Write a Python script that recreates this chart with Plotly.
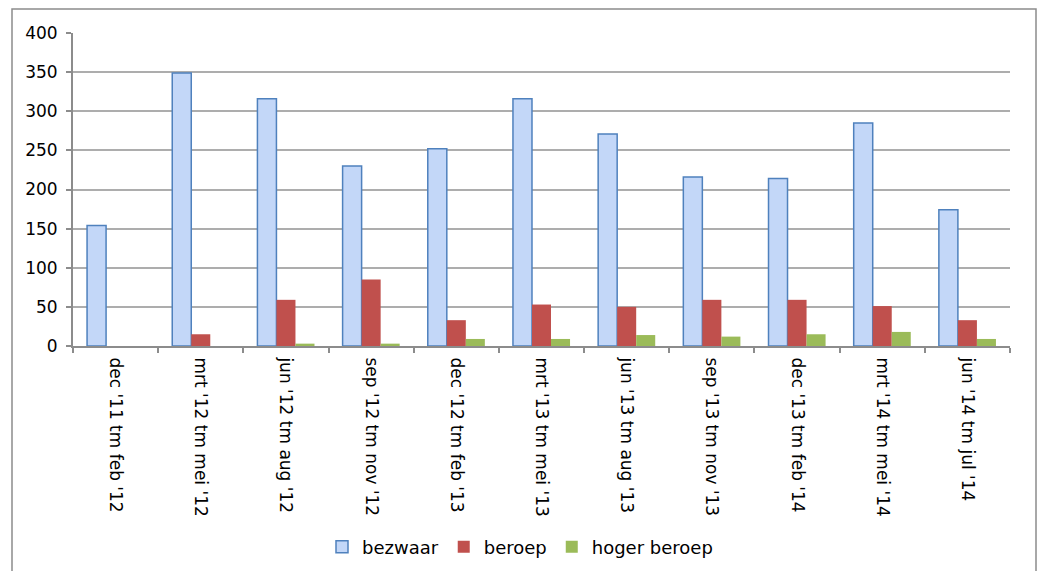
import plotly.graph_objects as go

categories = ["dec '11 tm feb '12", "mrt '12 tm mei '12", "jun '12 tm aug '12",
              "sep '12 tm nov '12", "dec '12 tm feb '13", "mrt '13 tm mei '13",
              "jun '13 tm aug '13", "sep '13 tm nov '13", "dec '13 tm feb '14",
              "mrt '14 tm mei '14", "jun '14 tm jul '14"]
bezwaar = [154, 349, 316, 230, 252, 316, 271, 216, 214, 285, 174]
beroep = [0, 15, 59, 85, 33, 53, 50, 59, 59, 51, 33]
hoger_beroep = [0, 0, 3, 3, 9, 9, 14, 12, 15, 18, 9]
y_ticks = [0, 50, 100, 150, 200, 250, 300, 350, 400]

FONT = "DejaVu Sans, Verdana, sans-serif"

fig = go.Figure()
fig.add_trace(go.Bar(x=categories, y=bezwaar, name="bezwaar",
                     marker=dict(color="#C3D7F8", line=dict(color="#4F81BD", width=1.5))))
fig.add_trace(go.Bar(x=categories, y=beroep, name="beroep",
                     marker=dict(color="#C0504D", line=dict(width=0))))
fig.add_trace(go.Bar(x=categories, y=hoger_beroep, name="hoger beroep",
                     marker=dict(color="#9BBB59", line=dict(width=0))))

L, R, T, B = 73, 1010, 33, 346
W, H = 1037, 571

def px(x):
    return (x - L) / (R - L)

def py(y):
    return (B - y) / (B - T)

fig.update_layout(
    width=W, height=H,
    margin=dict(l=L, r=W - R, t=T, b=H - B, pad=0, autoexpand=False),
    paper_bgcolor="white", plot_bgcolor="white",
    barmode="group", bargap=0.33, bargroupgap=0,
    font=dict(family=FONT, size=17, color="#000000"),
    showlegend=True,
    legend=dict(orientation="h", xref="container", yref="container",
                x=520 / W, xanchor="center", y=1 - 547 / H, yanchor="middle",
                font=dict(family=FONT, size=18, color="#000000"),
                traceorder="normal", itemwidth=30),
    xaxis=dict(type="category", tickangle=90, showline=True, linecolor="#8C8C8C", linewidth=2,
               ticks="outside", tickson="boundaries", ticklen=5, tickcolor="#8C8C8C", tickwidth=1.5,
               showgrid=False, tickfont=dict(family=FONT, size=17), ticklabelstandoff=6,
               automargin=False),
    yaxis=dict(range=[0, 400], tickvals=y_ticks, ticktext=[str(v) for v in y_ticks],
               showline=True, linecolor="#8C8C8C", linewidth=2,
               ticks="outside", ticklen=5, tickcolor="#8C8C8C", tickwidth=1.5,
               showgrid=True, gridcolor="#ADADAD", gridwidth=2, zeroline=False,
               tickfont=dict(family=FONT, size=17), ticklabelstandoff=5, automargin=False),
    shapes=[dict(type="rect", xref="paper", yref="paper",
                 x0=px(12), x1=px(1036), y0=py(580), y1=py(9),
                 line=dict(color="#8C8C8C", width=1.5), fillcolor="rgba(0,0,0,0)", layer="below")],
)

fig.write_html("out.html", config={"displayModeBar": False},
               post_script="document.body.style.margin='0';document.body.style.overflow='hidden';")
